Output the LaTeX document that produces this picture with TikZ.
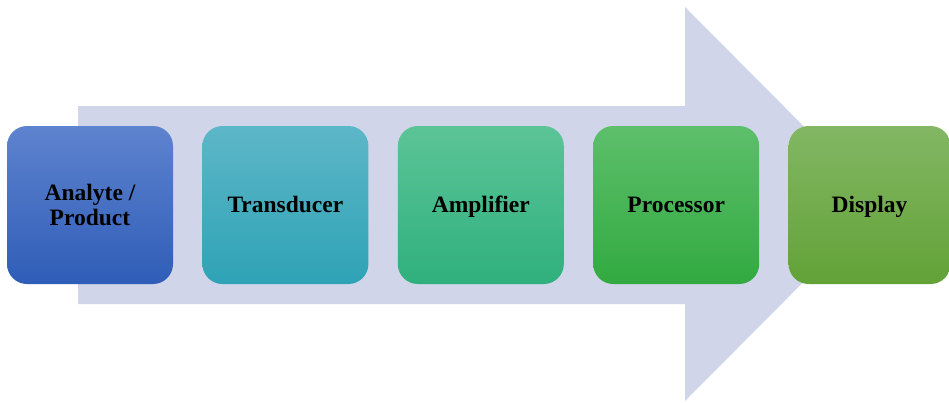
\documentclass[tikz,border=0pt]{standalone}
\usepackage{fontspec}
\setmainfont{Liberation Serif}
\usepackage{xcolor}
\usepackage{tikz}
\usetikzlibrary{calc, positioning}

\definecolor{arrowbg}{RGB}{208,213,234}
\tikzset{
    stage/.style={rounded corners=20pt, minimum width=166pt, minimum height=158pt,
        inner sep=0pt, align=center, font=\fontsize{23.5}{25}\selectfont\bfseries},
    oneline/.style={stage, text height=15.6pt, text depth=0pt},
}

\begin{document}
\begin{tikzpicture}[x=1pt, y=-1pt]
    \useasboundingbox (0,0) rectangle (949,402);
    % Mũi tên nền
    \fill[arrowbg] (78,106) -- (685,106) -- (685,7) -- (881,204)
        -- (685,401) -- (685,304) -- (78,304) -- cycle;
    % Các khối
    \node[stage, top color={rgb,255:red,94;green,131;blue,207},
        bottom color={rgb,255:red,47;green,93;blue,183}] (analyte) at (90,205) {Analyte /\\Product};
    \node[oneline, right=29pt of analyte, top color={rgb,255:red,93;green,183;blue,200},
        bottom color={rgb,255:red,46;green,163;blue,181}] (transducer) {Transducer};
    \node[oneline, right=29pt of transducer, top color={rgb,255:red,92;green,196;blue,151},
        bottom color={rgb,255:red,47;green,176;blue,125}] (amplifier) {Amplifier};
    \node[oneline, right=29pt of amplifier, top color={rgb,255:red,93;green,191;blue,107},
        bottom color={rgb,255:red,50;green,170;blue,64}] (processor) {Processor};
    \node[oneline, minimum width=162pt, right=29pt of processor, top color={rgb,255:red,131;green,183;blue,100},
        bottom color={rgb,255:red,98;green,162;blue,55}] (display) {Display};
\end{tikzpicture}
\end{document}
